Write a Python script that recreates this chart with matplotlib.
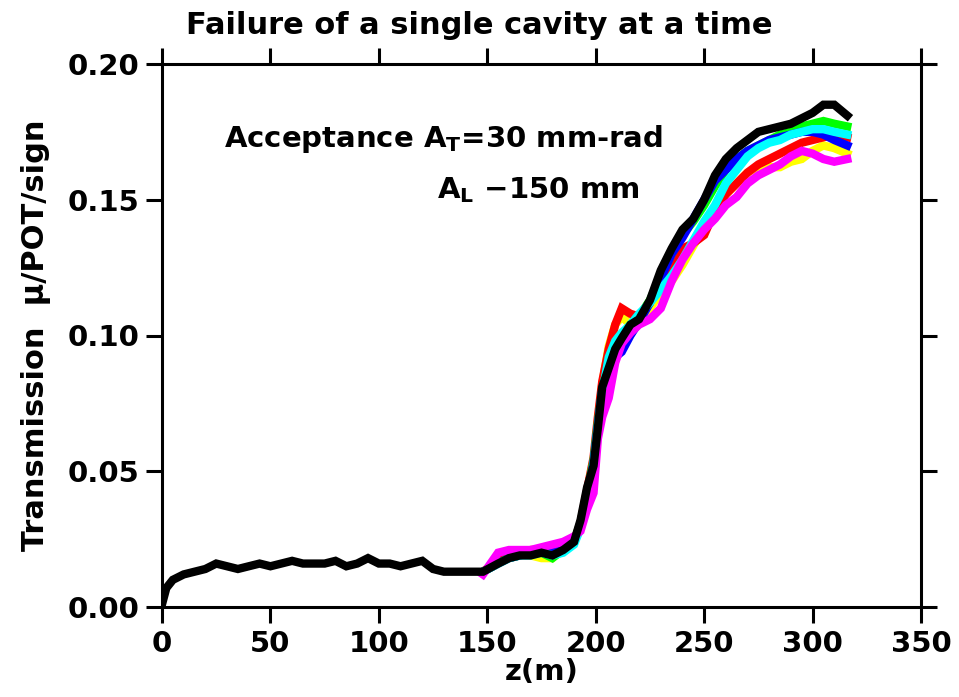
import matplotlib
matplotlib.use("Agg")
import matplotlib.pyplot as plt

# ---- data ----
z_black = [0, 2, 5, 10, 15, 20, 25, 30, 35, 40, 45, 50, 55, 60, 65, 70, 75, 80, 85, 90,
           95, 100, 105, 110, 115, 120, 125, 130, 135, 140, 145,
           148, 155, 160, 165, 170, 175, 180, 185, 190, 193, 196, 199, 201, 203, 206, 209,
           212, 216, 220, 225, 230, 235, 240, 245, 250, 255, 260, 265, 270, 275, 280, 285,
           290, 295, 300, 305, 310, 316]
t_black = [0.001, 0.007, 0.010, 0.012, 0.013, 0.014, 0.016, 0.015, 0.014, 0.015, 0.016,
           0.015, 0.016, 0.017, 0.016, 0.016, 0.016, 0.017, 0.015, 0.016,
           0.018, 0.016, 0.016, 0.015, 0.016, 0.017, 0.014, 0.013, 0.013, 0.013, 0.013,
           0.013, 0.016, 0.018, 0.019, 0.019, 0.020, 0.019, 0.021, 0.024, 0.032, 0.044,
           0.052, 0.066, 0.081, 0.088, 0.095,
           0.099, 0.104, 0.106, 0.113, 0.124, 0.132, 0.139, 0.143, 0.150, 0.159, 0.165,
           0.169, 0.172, 0.175, 0.176, 0.177, 0.178, 0.180, 0.182, 0.185, 0.185, 0.181]

z_fail = [148, 155, 160, 165, 170, 175, 180, 185, 190, 193, 196, 199, 201, 203, 206, 209,
          212, 216, 220, 225, 230, 235, 240, 245, 250, 255, 260, 265, 270, 275, 280, 285,
          290, 295, 300, 305, 310, 316]
t_red = [0.013, 0.017, 0.019, 0.020, 0.021, 0.021, 0.021, 0.022, 0.024, 0.031, 0.043, 0.055,
         0.070, 0.083, 0.095, 0.104, 0.110, 0.108, 0.107, 0.112, 0.120, 0.126, 0.132, 0.134,
         0.137, 0.146, 0.152, 0.156, 0.160, 0.163, 0.165, 0.167, 0.169, 0.171, 0.172, 0.173,
         0.174, 0.173]
t_green = [0.013, 0.016, 0.018, 0.019, 0.020, 0.020, 0.018, 0.021, 0.024, 0.031, 0.042, 0.054,
           0.068, 0.080, 0.090, 0.096, 0.100, 0.104, 0.107, 0.113, 0.122, 0.130, 0.137, 0.142,
           0.148, 0.155, 0.161, 0.165, 0.168, 0.170, 0.172, 0.174, 0.175, 0.177, 0.178, 0.179,
           0.178, 0.177]
t_blue = [0.013, 0.016, 0.018, 0.019, 0.020, 0.020, 0.020, 0.021, 0.024, 0.030, 0.041, 0.053,
          0.067, 0.080, 0.088, 0.092, 0.094, 0.100, 0.105, 0.112, 0.121, 0.130, 0.136, 0.143,
          0.150, 0.157, 0.161, 0.165, 0.168, 0.170, 0.172, 0.173, 0.174, 0.175, 0.175, 0.174,
          0.172, 0.170]
t_cyan = [0.013, 0.016, 0.018, 0.019, 0.019, 0.020, 0.019, 0.020, 0.023, 0.029, 0.040, 0.052,
          0.066, 0.079, 0.092, 0.098, 0.101, 0.104, 0.108, 0.112, 0.117, 0.122, 0.128, 0.135,
          0.142, 0.148, 0.156, 0.161, 0.166, 0.169, 0.171, 0.172, 0.174, 0.175, 0.176, 0.176,
          0.175, 0.174]
t_magenta = [0.012, 0.020, 0.021, 0.021, 0.021, 0.022, 0.023, 0.024, 0.026, 0.028, 0.036, 0.042,
             0.062, 0.070, 0.077, 0.090, 0.097, 0.101, 0.104, 0.106, 0.110, 0.120, 0.128, 0.134,
             0.139, 0.143, 0.148, 0.151, 0.156, 0.159, 0.161, 0.163, 0.166, 0.168, 0.167, 0.165,
             0.164, 0.165]
t_yellow = [0.013, 0.017, 0.019, 0.020, 0.019, 0.018, 0.018, 0.022, 0.025, 0.030, 0.040, 0.051,
            0.068, 0.082, 0.096, 0.104, 0.107, 0.104, 0.105, 0.110, 0.116, 0.120, 0.126, 0.133,
            0.140, 0.146, 0.152, 0.156, 0.160, 0.162, 0.162, 0.162, 0.164, 0.165, 0.168, 0.170,
            0.169, 0.167]

x_ticks = [0, 50, 100, 150, 200, 250, 300, 350]
y_ticks = [0.00, 0.05, 0.10, 0.15, 0.20]

# ---- figure ----
plt.rcParams["font.family"] = ["DejaVu Sans"]
plt.rcParams["font.weight"] = "bold"
plt.rcParams["mathtext.default"] = "regular"

fig = plt.figure(figsize=(9.59, 6.97), dpi=100)
ax = fig.add_axes([162 / 959, 1 - 607 / 697, (921 - 162) / 959, (607 - 64) / 697])

series = [(t_yellow, "#ffff00"), (t_red, "#ff0000"), (t_green, "#00ff00"),
          (t_blue, "#0000ff"), (t_cyan, "#00ffff"), (t_magenta, "#ff00ff")]
for vals, col in series:
    ax.plot(z_fail, vals, color=col, lw=6, solid_joinstyle="miter")
ax.plot(z_black, t_black, color="black", lw=6, solid_joinstyle="miter")

ax.set_xlim(0, 350)
ax.set_ylim(0, 0.20)
ax.set_xticks(x_ticks)
ax.set_yticks(y_ticks)
ax.set_yticklabels([f"{v:.2f}" for v in y_ticks])
ax.tick_params(direction="out", length=11.5, width=2.2, labelsize=21,
               top=True, right=True, pad=5)
for lab in ax.get_xticklabels() + ax.get_yticklabels():
    lab.set_fontweight("bold")
for s in ax.spines.values():
    s.set_linewidth(2.2)

ax.set_xlabel("z(m)", fontsize=21, fontweight="bold", labelpad=0)
ax.set_ylabel("Transmission  μ/POT/sign", fontsize=22, fontweight="bold", labelpad=12)
fig.text(0.5, 1 - 25 / 697, "Failure of a single cavity at a time", fontsize=22,
         fontweight="bold", ha="center", va="center")

ax.text(0.082, 0.862, r"Acceptance A$_{T}$=30 mm-rad", transform=ax.transAxes,
        fontsize=21, fontweight="bold", ha="left", va="center")
ax.text(0.362, 0.768, r"A$_{L}$ −150 mm", transform=ax.transAxes,
        fontsize=21, fontweight="bold", ha="left", va="center")

fig.savefig("out.png", dpi=100)
